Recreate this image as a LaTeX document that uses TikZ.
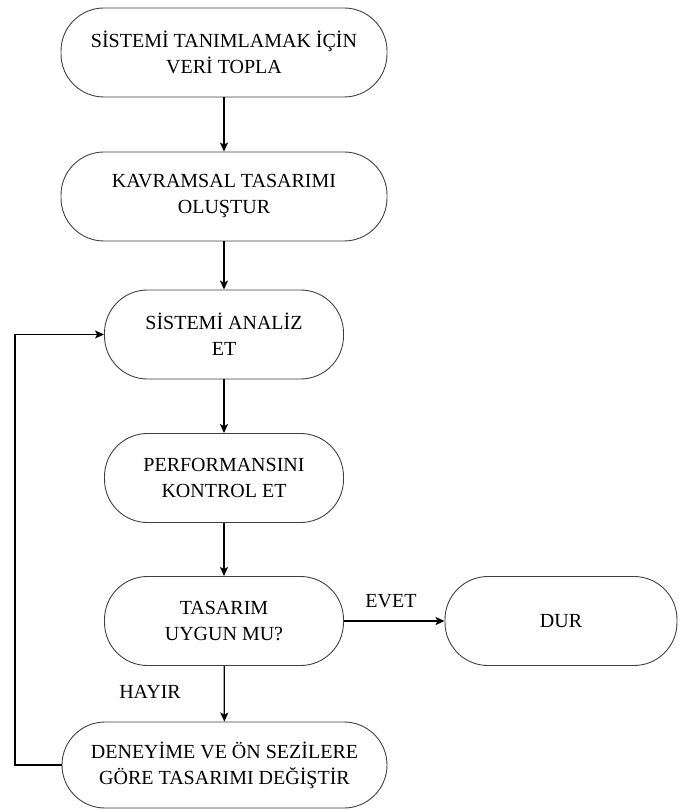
\documentclass[tikz,border=0pt]{standalone}
\usepackage{fontspec}
\setmainfont{Liberation Serif}
\usetikzlibrary{arrows.meta}
\begin{document}
\begin{tikzpicture}[x=1pt,y=-1pt,
  stadium/.style={draw=black!75, line width=0.9pt, rounded corners=43pt,
    minimum height=89pt, align=center, inner sep=0pt,
    font=\fontsize{20}{26}\selectfont},
  flow/.style={line width=1.3pt, -{Stealth[length=9pt,width=8pt,inset=2pt]}},
  lbl/.style={font=\fontsize{20}{24}\selectfont, inner sep=0pt}]
\useasboundingbox (0,0) rectangle (678,810);

\node[stadium, minimum width=326pt] (collect) at (224,52.5)
  {SİSTEMİ TANIMLAMAK İÇİN\\VERİ TOPLA};
\node[stadium, minimum width=326pt] (concept) at (224,196.5)
  {KAVRAMSAL TASARIMI\\OLUŞTUR};
\node[stadium, minimum width=239pt] (analyse) at (224,334.5)
  {SİSTEMİ ANALİZ\\ET};
\node[stadium, minimum width=239pt] (perf) at (224,478)
  {PERFORMANSINI\\KONTROL ET};
\node[stadium, minimum width=239pt] (decide) at (224,621)
  {TASARIM\\UYGUN MU?};
\node[stadium, minimum width=232pt] (stop) at (561,621) {DUR};
\node[stadium, minimum width=325pt, minimum height=86pt] (modify) at (224.5,765)
  {DENEYİME VE ÖN SEZİLERE\\GÖRE TASARIMI DEĞİŞTİR};

\node[lbl] (yes) at (391,601) {EVET};
\node[lbl] (no) at (150,692) {HAYIR};

\coordinate (loopB) at (15,765);
\coordinate (loopT) at (15,334.5);

\draw[flow] (collect) -- (concept);
\draw[flow] (concept) -- (analyse);
\draw[flow] (analyse) -- (perf);
\draw[flow] (perf) -- (decide);
\draw[flow] (decide) -- (stop);
\draw[flow] (decide) -- (modify);
\draw[flow] (modify.west) -- (loopB) -- (loopT) -- (analyse.west);
\end{tikzpicture}
\end{document}
